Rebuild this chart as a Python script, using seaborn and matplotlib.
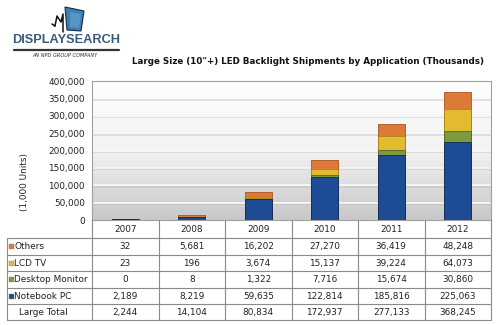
import numpy as np
import matplotlib
matplotlib.use("Agg")
import matplotlib.pyplot as plt
import seaborn as sns
from matplotlib import patheffects as pe
from matplotlib.patches import Polygon, Rectangle
from matplotlib.colors import LinearSegmentedColormap

# ---------------- data ----------------
years = ["2007", "2008", "2009", "2010", "2011", "2012"]
others = [32, 5681, 16202, 27270, 36419, 48248]
lcd_tv = [23, 196, 3674, 15137, 39224, 64073]
desktop = [0, 8, 1322, 7716, 15674, 30860]
notebook = [2189, 8219, 59635, 122814, 185816, 225063]
large_total = [2244, 14104, 80834, 172937, 277133, 368245]
row_labels = ["Others", "LCD TV", "Desktop Monitor", "Notebook PC", "Large Total"]
yticks = [0, 50000, 100000, 150000, 200000, 250000, 300000, 350000, 400000]
title = 'Large Size (10"+) LED Backlight Shipments by Application (Thousands)'

col_notebook = "#1d4b94"
col_desktop = "#7d9a3c"
col_lcd = "#e3bb2e"
col_others = "#dd7a38"

sns.set_theme(style="white")
plt.rcParams["font.family"] = ["DejaVu Sans"]

W, H = 500, 325
fig = plt.figure(figsize=(W / 100, H / 100), dpi=100)
fig.patch.set_facecolor("white")

# plot area (pixel layout)
L, R, T, B = 92, 491, 81, 220
ax = fig.add_axes([L / W, 1 - B / H, (R - L) / W, (B - T) / H])

# gradient background
cmap = LinearSegmentedColormap.from_list("bg", ["#ffffff", "#f2f2f2", "#c8c8c8"])
ax.imshow(np.linspace(0, 1, 256).reshape(-1, 1), cmap=cmap, aspect="auto",
          extent=[0, 1, 0, 1], transform=ax.transAxes, zorder=0)

# stacked bars (cumulative overlay)
c1 = np.array(notebook)
c2 = c1 + np.array(desktop)
c3 = c2 + np.array(lcd_tv)
c4 = c3 + np.array(others)
for vals, col, ec in [(c4, col_others, "#a9541f"), (c3, col_lcd, "#a88518"),
                      (c2, col_desktop, "#4f6624"), (c1, col_notebook, "#10295a")]:
    sns.barplot(x=years, y=vals, color=col, saturation=1, width=0.4, ax=ax,
                edgecolor=ec, linewidth=0.6, zorder=3)

ax.set_xlim(-0.5, 5.5)
ax.set_ylim(0, 400000)
ax.set_yticks(yticks)
ax.set_yticklabels([f"{v:,}" for v in yticks], fontsize=6.4, color="#222222")
ax.set_xticks([])
ax.set_xlabel("")
ax.set_ylabel("")
ax.tick_params(axis="y", length=0, pad=5)
for v in yticks[1:-1]:
    ax.axhline(v, color="#f9f9f9", lw=1.2, zorder=1,
               path_effects=[pe.SimpleLineShadow(offset=(0, -1.0), shadow_color="#a8a8a8", alpha=0.35),
                             pe.Normal()])
for s in ax.spines.values():
    s.set_visible(True)
    s.set_color("#a0a0a0")
    s.set_linewidth(0.8)

fig.text(24 / W, 1 - 182 / H, "(1,000 Units)", rotation=90, ha="center", va="center",
         fontsize=6.4, color="#222222")

# title
fig.text(308 / W, 1 - 61 / H, title, ha="center", va="center", fontsize=6.3,
         fontweight="bold", color="#111111")

# ---------------- overlay axes in pixel coordinates ----------------
tax = fig.add_axes([0, 0, 1, 1], zorder=5)
tax.set_xlim(0, W)
tax.set_ylim(H, 0)
tax.axis("off")
tax.patch.set_alpha(0)

# table
lc = "#8a8a8a"
lw = 0.8
colw = (R - L) / 6
rows_y = [238, 254.5, 271, 287.5, 304, 320]
xl = 7
tax.plot([L, L], [B, rows_y[-1]], color=lc, lw=lw)
tax.plot([R, R], [B, rows_y[-1]], color=lc, lw=lw)
tax.plot([xl, xl], [rows_y[0], rows_y[-1]], color=lc, lw=lw)
for i in range(1, 6):
    x = L + i * colw
    tax.plot([x, x], [B, rows_y[-1]], color=lc, lw=lw)
for y in rows_y:
    tax.plot([xl, R], [y, y], color=lc, lw=lw)

fs_t = 6.4
for i, yr in enumerate(years):
    tax.text(L + (i + 0.5) * colw, (B + rows_y[0]) / 2 + 0.5, yr, ha="center", va="center",
             fontsize=fs_t, color="#222222")

table_rows = [others, lcd_tv, desktop, notebook, large_total]
sq_cols = [col_others, col_lcd, col_desktop, col_notebook, None]
for r, (lab, vals, sc) in enumerate(zip(row_labels, table_rows, sq_cols)):
    yc = (rows_y[r] + rows_y[r + 1]) / 2 + 0.5
    if sc is not None:
        tax.add_patch(Rectangle((8.5, yc - 2.5), 5, 5, facecolor=sc,
                                edgecolor="#888888", lw=0.3))
        tax.text(14.5, yc, lab, ha="left", va="center", fontsize=fs_t, color="#222222")
    else:
        tax.text(19, yc, lab, ha="left", va="center", fontsize=fs_t, color="#222222")
    for i, v in enumerate(vals):
        tax.text(L + (i + 0.5) * colw, yc, f"{v:,}", ha="center", va="center",
                 fontsize=fs_t, color="#222222")

# logo
disp = Polygon([[65, 7], [84, 11], [81, 31], [67, 30]], closed=True,
               facecolor="#3f7fb5", edgecolor="#1a2b3c", lw=0.8)
tax.add_patch(disp)
tax.add_patch(Polygon([[70, 12], [81, 14], [79, 28], [70, 27]], closed=True,
                      facecolor="#6aa3d0", edgecolor="none", alpha=0.6))
tax.plot([55, 57, 61, 63, 63], [26, 16, 22, 14, 32], color="#111111", lw=1.1)
tax.plot([52, 55], [24, 26], color="#111111", lw=1.1)
tax.text(66, 40, "DISPLAYSEARCH", ha="center", va="center", fontsize=9.2,
         color="#3a5a7c", fontweight="bold", family="Liberation Sans")
tax.plot([14, 119], [49.5, 49.5], color="#333333", lw=1.6)
tax.text(65, 55.5, "AN NPD GROUP COMPANY", ha="center", va="center", fontsize=3.6,
         style="italic", color="#333333")

fig.savefig("out.png", dpi=100)
